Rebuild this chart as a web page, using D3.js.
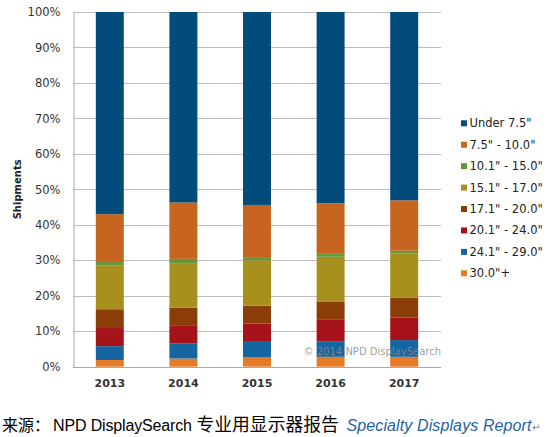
<!DOCTYPE html>
<html>
<head>
<meta charset="utf-8">
<script src="https://cdn.jsdelivr.net/npm/d3@7/dist/d3.min.js"></script>
<style>
  html, body { margin: 0; padding: 0; background: #fff; }
  svg { display: block; }
</style>
</head>
<body>
<svg id="chart" width="551" height="437"></svg>
<script>
// ---- Data ----
const years = ["2013", "2014", "2015", "2016", "2017"];
const seriesNames = ["30.0\"+", "24.1\" - 29.0\"", "20.1\" - 24.0\"", "17.1\" - 20.0\"",
                     "15.1\" - 17.0\"", "10.1\" - 15.0\"", "7.5\" - 10.0\"", "Under 7.5\""];
// shares in % per year (bottom to top)
const s30plus   = [1.9, 2.3, 2.6, 2.8, 2.8];
const s24to29   = [3.9, 4.2, 4.4, 4.4, 4.7];
const s20to24   = [5.1, 5.2, 5.2, 6.0, 6.4];
const s17to20   = [5.3, 4.9, 5.0, 5.2, 5.5];
const s15to17   = [12.3, 12.6, 12.8, 12.6, 12.6];
const s10to15   = [1.0, 1.2, 0.9, 1.0, 0.7];
const s7to10    = [13.5, 15.9, 14.7, 14.1, 14.2];
const sUnder7   = [57.0, 53.7, 54.4, 53.9, 53.1];
const yTicks = [0, 10, 20, 30, 40, 50, 60, 70, 80, 90, 100];
const legendOrder = ["Under 7.5\"", "7.5\" - 10.0\"", "10.1\" - 15.0\"", "15.1\" - 17.0\"",
                     "17.1\" - 20.0\"", "20.1\" - 24.0\"", "24.1\" - 29.0\"", "30.0\"+"];
const seriesValues = [s30plus, s24to29, s20to24, s17to20, s15to17, s10to15, s7to10, sUnder7];
const colors = {
  "Under 7.5\"": "#024b7b",
  "7.5\" - 10.0\"": "#c5651f",
  "10.1\" - 15.0\"": "#66953a",
  "15.1\" - 17.0\"": "#a8901e",
  "17.1\" - 20.0\"": "#8b3d08",
  "20.1\" - 24.0\"": "#a6121a",
  "24.1\" - 29.0\"": "#1565a0",
  "30.0\"+": "#e57a27"
};

// ---- Table ----
const table = years.map((y, i) => {
  const row = { year: y };
  seriesNames.forEach((s, k) => { row[s] = seriesValues[k][i]; });
  return row;
});

const svg = d3.select("#chart");
const font = "'DejaVu Sans', Verdana, sans-serif";
const plot = { left: 73, right: 441, top: 12, bottom: 366.7 };

const x = d3.scaleBand().domain(years).range([plot.left, plot.right]).paddingInner(0.62).paddingOuter(0.31);
const y = d3.scaleLinear().domain([0, 100]).range([plot.bottom, plot.top]);

// gridlines
svg.append("g").selectAll("line").data(yTicks).join("line")
  .attr("x1", plot.left).attr("x2", plot.right)
  .attr("y1", d => Math.round(y(d)) + 0.5).attr("y2", d => Math.round(y(d)) + 0.5)
  .attr("stroke", "#bdbdbd").attr("stroke-width", 1);

// y axis
const yAxis = svg.append("g").attr("transform", `translate(${plot.left + 0.5},0)`)
  .call(d3.axisLeft(y).tickValues(yTicks).tickFormat(d => d + "%").tickSize(0).tickPadding(13));
yAxis.select(".domain").attr("stroke", "#a8a8a8");
yAxis.selectAll("text").attr("font-family", font).attr("font-size", "11.5px").attr("fill", "#333");

// x axis
const xAxis = svg.append("g").attr("transform", `translate(0,${Math.round(plot.bottom) + 0.5})`)
  .call(d3.axisBottom(x).tickSize(0).tickPadding(11.5));
xAxis.select(".domain").attr("stroke", "#a8a8a8").attr("d", `M${plot.left},0H${plot.right}`);
xAxis.selectAll("text").attr("font-family", font).attr("font-size", "11px")
  .attr("font-weight", "bold").attr("fill", "#333");

// stacked bars
const stack = d3.stack().keys(seriesNames)(table);
svg.append("g").selectAll("g").data(stack).join("g")
  .attr("fill", d => colors[d.key])
  .selectAll("rect").data(d => d).join("rect")
  .attr("x", d => x(d.data.year))
  .attr("width", x.bandwidth())
  .attr("y", d => y(d[1]))
  .attr("height", d => y(d[0]) - y(d[1]));

// y title
svg.append("text")
  .attr("transform", `translate(20.5,${(plot.top + plot.bottom) / 2}) rotate(-90)`)
  .attr("text-anchor", "middle")
  .attr("font-family", font).attr("font-size", "10px").attr("font-weight", "bold")
  .attr("fill", "#222").text("Shipments");

// watermark
svg.append("text")
  .attr("x", plot.right).attr("y", 355)
  .attr("text-anchor", "end")
  .attr("font-family", font).attr("font-size", "10px")
  .attr("fill", "#8a8a8a").attr("fill-opacity", 0.85)
  .text("© 2014 NPD DisplaySearch");

// legend
const legend = svg.append("g").selectAll("g").data(legendOrder).join("g")
  .attr("transform", (d, i) => `translate(461,${123.3 + i * 21.43})`);
legend.append("rect").attr("x", 0).attr("y", -3).attr("width", 6).attr("height", 6)
  .attr("fill", d => colors[d]);
legend.append("text").attr("x", 8.5).attr("y", 4)
  .attr("font-family", font).attr("font-size", "11.5px").attr("fill", "#222")
  .text(d => d);

// caption
const cap = svg.append("text").attr("y", 431).attr("font-size", "16px").attr("fill", "#000");
cap.append("tspan").attr("x", 2).attr("font-family", "'Noto Sans CJK SC', sans-serif")
  .text("来源：");
cap.append("tspan").attr("x", 53).attr("font-family", "'Liberation Sans', Arial, sans-serif")
  .attr("textLength", 139).attr("lengthAdjust", "spacing").text("NPD DisplaySearch");
cap.append("tspan").attr("x", 196.5).attr("font-family", "'Noto Sans CJK SC', sans-serif")
  .attr("font-size", "17.8px").text("专业用显示器报告");
cap.append("tspan").attr("x", 346.5).attr("font-family", "'Liberation Sans', Arial, sans-serif")
  .attr("font-style", "italic").attr("fill", "#1f62a3")
  .attr("textLength", 185).attr("lengthAdjust", "spacing").text("Specialty Displays Report");
cap.append("tspan").attr("x", 532).attr("font-family", "'DejaVu Sans', sans-serif")
  .attr("font-size", "10px").attr("fill", "#888").text("↵");
</script>
</body>
</html>
